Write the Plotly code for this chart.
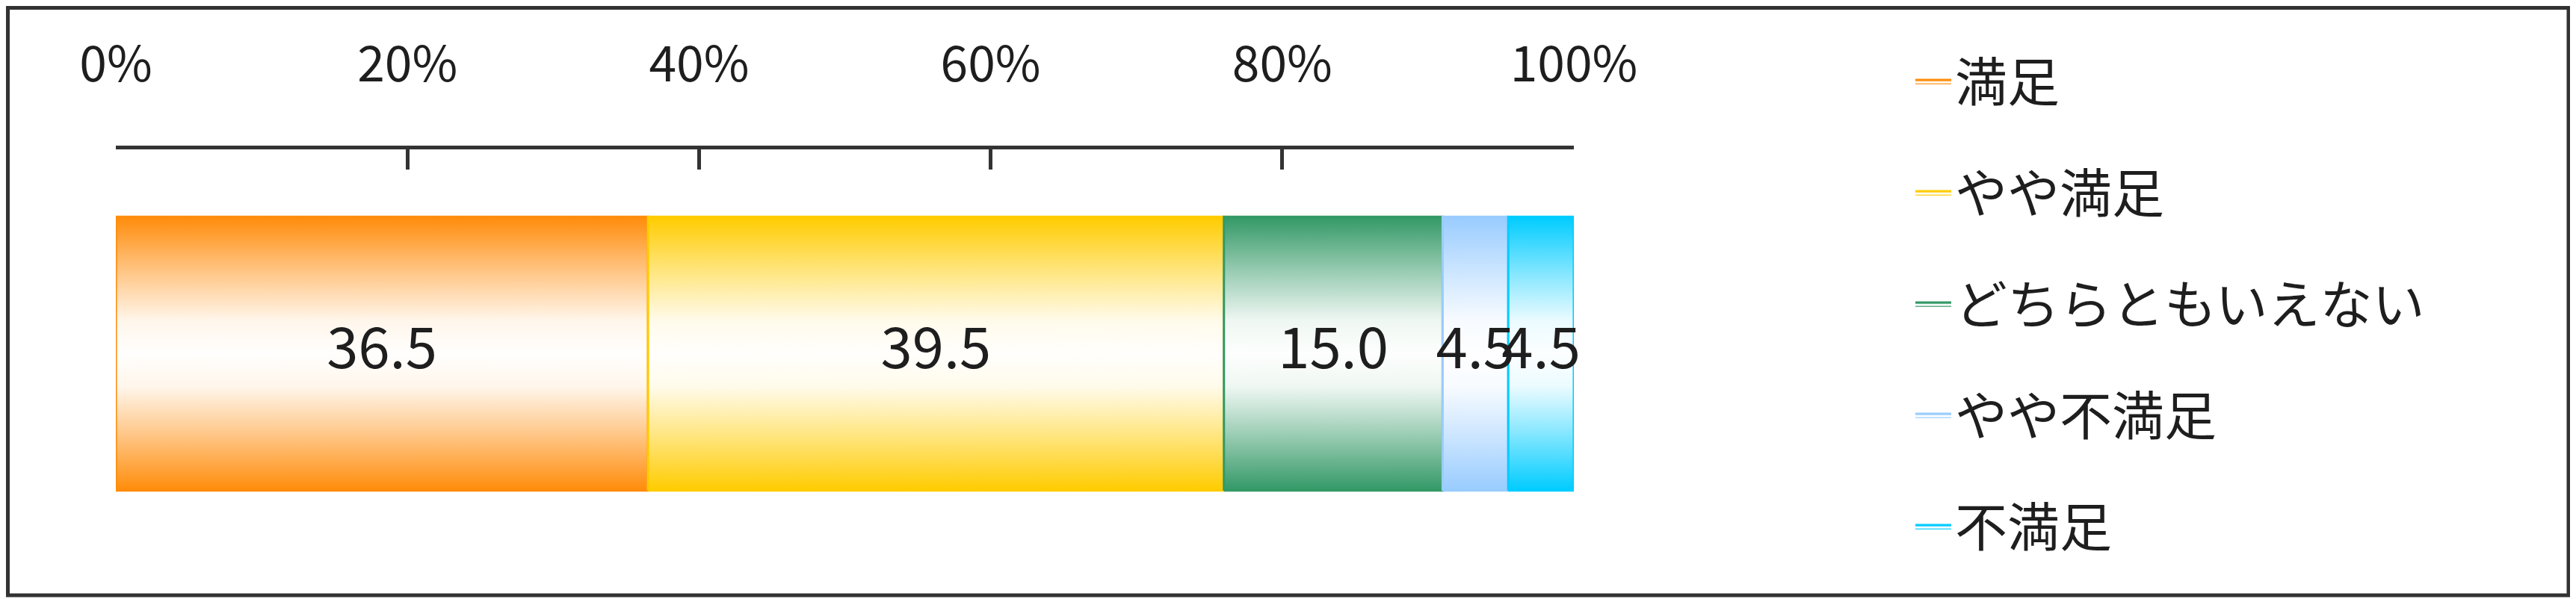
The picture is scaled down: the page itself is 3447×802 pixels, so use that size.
import plotly.graph_objects as go

# ---- data ----
categories = ["満足", "やや満足", "どちらともいえない", "やや不満足", "不満足"]
values = [36.5, 39.5, 15.0, 4.5, 4.5]
tick_values = [0, 20, 40, 60, 80, 100]
tick_labels = ["0%", "20%", "40%", "60%", "80%", "100%"]
colors = ["#FF8C0A", "#FFCC00", "#339966", "#99CCFF", "#00CCFF"]

# ---- style / layout geometry (page pixels of the 3447x802 window) ----
PAGE_W, PAGE_H = 3447, 802
OFF = 8                      # default body margin of the html page
W, H = PAGE_W - OFF, PAGE_H - OFF
BAR_HALF = 0.335
NUM_FONT = "Noto Sans CJK JP, sans-serif"
JP_FONT = "Noto Sans CJK JP, sans-serif"
TEXT_COLOR = "#1e1e1e"


def px(x):
    return (x - OFF) / W


def py(y):
    return 1 - (y - OFF) / H


def mix_white(c, t):
    r, g, b = int(c[1:3], 16), int(c[3:5], 16), int(c[5:7], 16)
    r = round(r + (255 - r) * t)
    g = round(g + (255 - g) * t)
    b = round(b + (255 - b) * t)
    return f"rgb({r},{g},{b})"


def gradient_scale(c):
    prof = [(0.0, 0.0), (0.08, 0.2), (0.22, 0.55), (0.38, 0.92), (0.5, 0.99),
            (0.62, 0.92), (0.78, 0.55), (0.92, 0.2), (1.0, 0.0)]
    return [[p, mix_white(c, w)] for p, w in prof]


fig = go.Figure()

base = 0.0
mids = []
for cat, v, c in zip(categories, values, colors):
    x0, x1 = base, base + v
    fig.add_trace(go.Scatter(
        x=[x0, x1, x1, x0, x0],
        y=[-BAR_HALF, -BAR_HALF, BAR_HALF, BAR_HALF, -BAR_HALF],
        mode="lines",
        fill="toself",
        fillgradient=dict(type="vertical", colorscale=gradient_scale(c)),
        line=dict(color=c, width=3),
        name=cat,
        legendgroup=cat,
        hoveron="fills",
        hoverinfo="name",
    ))
    mids.append(base + v / 2)
    base = x1

fig.add_trace(go.Scatter(
    x=mids,
    y=[0] * len(values),
    mode="text",
    text=[f"{v:.1f}" for v in values],
    textposition="middle center",
    textfont=dict(family=NUM_FONT, size=76, color=TEXT_COLOR),
    showlegend=False,
    hoverinfo="skip",
    cliponaxis=False,
))

fig.update_layout(
    width=W,
    height=H,
    margin=dict(l=0, r=0, t=0, b=0, pad=0, autoexpand=False),
    paper_bgcolor="white",
    plot_bgcolor="white",
    showlegend=True,
    xaxis=dict(
        domain=[px(155), px(2106)],
        range=[0, 100],
        side="top",
        tickmode="array",
        tickvals=tick_values,
        ticktext=tick_labels,
        ticks="inside",
        ticklen=27,
        tickwidth=5,
        tickcolor="#333333",
        showline=True,
        linewidth=5,
        linecolor="#333333",
        showgrid=False,
        zeroline=False,
        automargin=False,
        tickfont=dict(family=NUM_FONT, size=66, color=TEXT_COLOR),
        ticklabelstandoff=60,
        fixedrange=True,
    ),
    yaxis=dict(
        domain=[py(747), py(200)],
        range=[-0.5, 0.5],
        visible=False,
        automargin=False,
        fixedrange=True,
    ),
    legend=dict(
        x=px(2558),
        y=py(57),
        xanchor="left",
        yanchor="top",
        font=dict(family=JP_FONT, size=70, color=TEXT_COLOR),
        itemwidth=48,
        tracegroupgap=55,
        bgcolor="rgba(0,0,0,0)",
        borderwidth=0,
    ),
    shapes=[dict(
        type="rect", xref="paper", yref="paper",
        x0=2.5 / W, x1=px(3437), y0=py(797), y1=1 - 2.5 / H,
        line=dict(color="#333333", width=5),
        fillcolor="rgba(0,0,0,0)",
        layer="above",
    )],
)

fig.write_html("out.html")
